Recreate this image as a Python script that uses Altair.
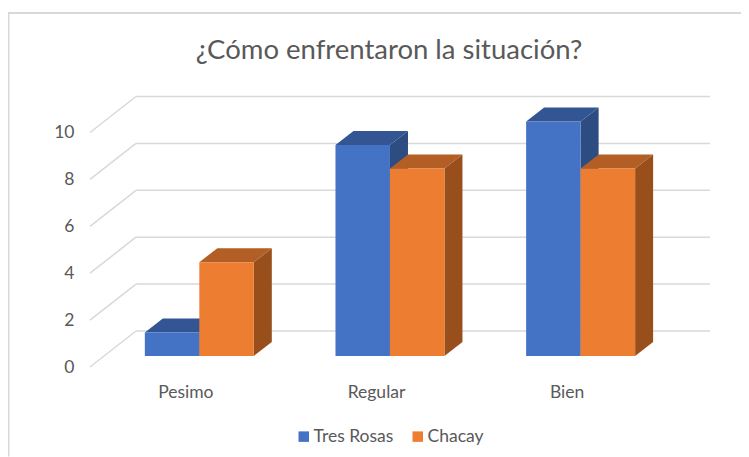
import altair as alt
import pandas as pd

categories = ["Pesimo", "Regular", "Bien"]
tres_rosas = [1, 9, 10]
chacay = [4, 8, 8]
series = {"Tres Rosas": tres_rosas, "Chacay": chacay}
front_colors = ["#4472C4", "#ED7D31"]
top_colors = {"Tres Rosas": "#335593", "Chacay": "#B35E24"}
side_colors = {"Tres Rosas": "#2C4C82", "Chacay": "#984F1C"}
grid_levels = [0, 2, 4, 6, 8, 10]

# Depth of the fake 3D box, in data units
BACK_DX, BACK_DY = 0.2413, 1.535
BAR_X, BAR_Y = 0.0734, 0.469
BAR_W = 0.2858
DEPTH_X, DEPTH_Y = 0.0944, 0.597
X_DOMAIN = [-0.5, 2.752]
Y_DOMAIN = [0, 11.535]

x_scale = alt.Scale(domain=X_DOMAIN, nice=False, zero=False)
y_scale = alt.Scale(domain=Y_DOMAIN, nice=False, zero=False)
GRID = "#D9D9D9"
TEXT = "#595959"
FONT = "Lato"

back = pd.DataFrame({"x": [X_DOMAIN[0] + BACK_DX] * 6, "x2": [X_DOMAIN[1]] * 6,
                     "y": [g + BACK_DY for g in grid_levels]})
diag = pd.DataFrame({"x": [X_DOMAIN[0]] * 6, "x2": [X_DOMAIN[0] + BACK_DX] * 6,
                     "y": grid_levels, "y2": [g + BACK_DY for g in grid_levels]})

back_rule = alt.Chart(back).mark_rule(color=GRID, strokeWidth=1.5).encode(
    x=alt.X("x:Q", scale=x_scale,
            axis=alt.Axis(values=[0, 1, 2], labelExpr="['Pesimo','Regular','Bien'][datum.value]",
                          title=None, grid=False, domain=False, ticks=False, labelPadding=16,
                          labelFont=FONT, labelFontSize=17.5, labelColor=TEXT)),
    x2="x2:Q",
    y=alt.Y("y:Q", scale=y_scale,
            axis=alt.Axis(values=grid_levels, title=None, grid=False, domain=False, ticks=False,
                          labelPadding=16, labelOffset=0, labelFont=FONT, labelFontSize=17.5,
                          labelColor=TEXT)),
)
diag_rule = alt.Chart(diag).mark_rule(color=GRID, strokeWidth=1.5).encode(
    x=alt.X("x:Q", scale=x_scale), x2="x2:Q",
    y=alt.Y("y:Q", scale=y_scale), y2="y2:Q",
)

layers = [back_rule, diag_rule]
color_scale = alt.Scale(domain=list(series), range=front_colors)
for s_i, (name, values) in enumerate(series.items()):
    front, top, side = [], [], []
    for k, v in enumerate(values):
        x0 = k + BAR_X - BAR_W + s_i * BAR_W
        x1 = x0 + BAR_W
        y0 = BAR_Y
        yt = v + BAR_Y
        front.append({"x": x0, "x2": x1, "y": y0, "y2": yt, "serie": name})
        for px, lo, up in [(x0, yt, yt), (x0 + DEPTH_X, yt, yt + DEPTH_Y),
                           (x1, yt, yt + DEPTH_Y), (x1 + DEPTH_X, yt + DEPTH_Y, yt + DEPTH_Y)]:
            top.append({"x": px, "lo": lo, "up": up, "id": k})
        for px, lo, up in [(x1, y0, yt), (x1 + DEPTH_X, y0 + DEPTH_Y, yt + DEPTH_Y)]:
            side.append({"x": px, "lo": lo, "up": up, "id": k})
    for rows, col in [(side, side_colors[name]), (top, top_colors[name])]:
        layers.append(alt.Chart(pd.DataFrame(rows)).mark_area(color=col, interpolate="linear").encode(
            x=alt.X("x:Q", scale=x_scale), y=alt.Y("lo:Q", scale=y_scale), y2="up:Q",
            detail="id:N"))
    layers.append(alt.Chart(pd.DataFrame(front)).mark_rect().encode(
        x=alt.X("x:Q", scale=x_scale), x2="x2:Q",
        y=alt.Y("y:Q", scale=y_scale), y2="y2:Q",
        color=alt.Color("serie:N", scale=color_scale, legend=alt.Legend(
            title=None, orient="none", direction="horizontal", legendX=205, legendY=331,
            symbolType="square", symbolSize=110, symbolStrokeWidth=0, labelFont=FONT,
            labelFontSize=17.5, labelColor=TEXT, columnPadding=15, labelOffset=1)),
    ))

border_top = alt.Chart(pd.DataFrame({"a": [0]})).mark_rule(color=GRID, strokeWidth=2).encode(
    x=alt.value(-82), x2=alt.value(651), y=alt.value(-83.5))
border_left = alt.Chart(pd.DataFrame({"a": [0]})).mark_rule(color=GRID, strokeWidth=3).encode(
    x=alt.value(-82), y=alt.value(-84.5), y2=alt.value(360))

chart = alt.layer(border_top, border_left, *layers).properties(
    width=620, height=270.5,
    title=alt.TitleParams("¿Cómo enfrentaron la situación?", font=FONT, fontSize=27.5,
                          fontWeight="normal", color=TEXT, anchor="middle", frame="group",
                          dx=-11, offset=-54),
    padding={"left": 82, "top": 88.5, "right": 31, "bottom": 90},
    autosize=alt.AutoSizeParams(type="none"),
).configure_view(stroke=None)

chart.save("out.html", embed_options={"renderer": "svg", "actions": False})
